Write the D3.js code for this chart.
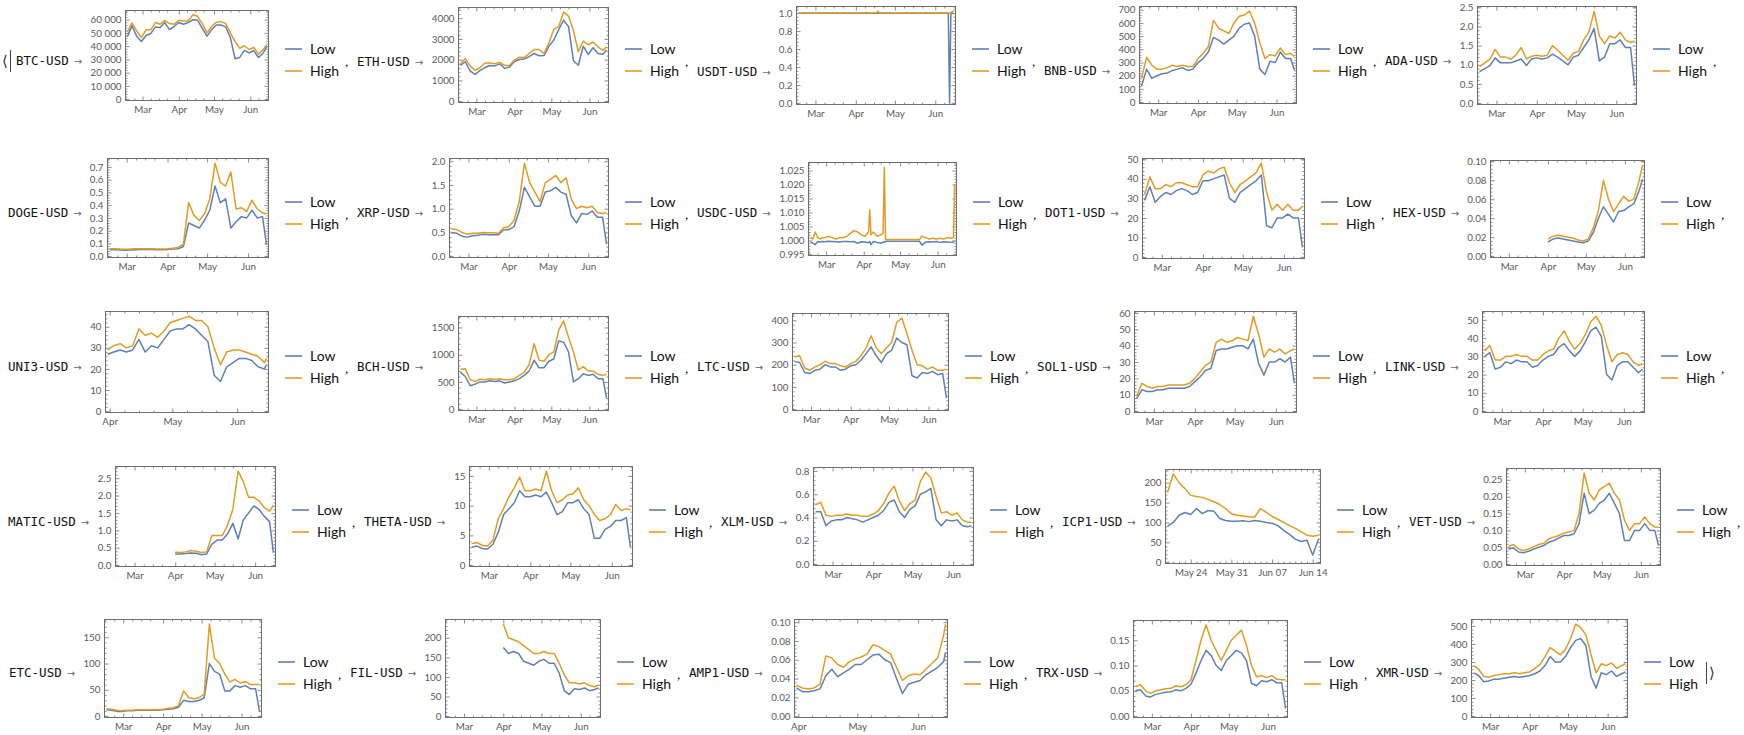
<!DOCTYPE html>
<html><head><meta charset="utf-8">
<script src="https://cdn.jsdelivr.net/npm/d3@7"></script>
<style>body{margin:0;background:#fff;}svg{display:block;}</style>
</head><body>
<svg width="1744" height="735"></svg>
<script>
// ---------- DATA ----------
const dates = ["2021-02-16","2021-02-20","2021-02-24","2021-02-28","2021-03-04","2021-03-08","2021-03-12","2021-03-16","2021-03-20","2021-03-24","2021-03-28","2021-04-01","2021-04-05","2021-04-09","2021-04-13","2021-04-17","2021-04-21","2021-04-25","2021-04-29","2021-05-03","2021-05-07","2021-05-11","2021-05-15","2021-05-19","2021-05-23","2021-05-27","2021-05-31","2021-06-04","2021-06-08","2021-06-12","2021-06-15"];
const datesLate = ["2021-03-31","2021-04-03","2021-04-06","2021-04-09","2021-04-12","2021-04-15","2021-04-18","2021-04-21","2021-04-24","2021-04-27","2021-04-30","2021-05-03","2021-05-06","2021-05-09","2021-05-12","2021-05-15","2021-05-18","2021-05-21","2021-05-24","2021-05-27","2021-05-30","2021-06-02","2021-06-05","2021-06-08","2021-06-11","2021-06-14","2021-06-15"];
const datesICP = ["2021-05-20","2021-05-21","2021-05-22","2021-05-23","2021-05-24","2021-05-25","2021-05-26","2021-05-27","2021-05-28","2021-05-29","2021-05-30","2021-05-31","2021-06-01","2021-06-02","2021-06-03","2021-06-04","2021-06-05","2021-06-06","2021-06-07","2021-06-08","2021-06-09","2021-06-10","2021-06-11","2021-06-12","2021-06-13","2021-06-14","2021-06-15"];
const datesUSDT = ["2021-02-16","2021-03-01","2021-03-15","2021-04-01","2021-04-08","2021-04-09","2021-04-10","2021-04-17","2021-04-18","2021-04-19","2021-05-01","2021-05-15","2021-06-01","2021-06-11","2021-06-12","2021-06-13","2021-06-14","2021-06-15"];
const datesUSDC = ["2021-02-16","2021-02-18","2021-02-20","2021-02-22","2021-02-24","2021-02-26","2021-02-28","2021-03-03","2021-03-06","2021-03-09","2021-03-12","2021-03-15","2021-03-18","2021-03-21","2021-03-24","2021-03-27","2021-03-30","2021-04-02","2021-04-05","2021-04-06","2021-04-07","2021-04-09","2021-04-12","2021-04-15","2021-04-17","2021-04-18","2021-04-19","2021-05-17","2021-05-19","2021-05-22","2021-05-25","2021-05-28","2021-05-31","2021-06-03","2021-06-06","2021-06-09","2021-06-12","2021-06-14","2021-06-15"];

const monthTicks = ["2021-03-01","2021-04-01","2021-05-01","2021-06-01"];
const weekTicks = ["2021-05-24","2021-05-31","2021-06-07","2021-06-14"];

const btcLow  = [47000,55500,47500,43500,48000,49500,54500,54000,57800,52500,55000,57800,56500,57800,60000,59600,53500,47500,52500,56000,56000,54500,46500,30500,31500,36800,35000,36500,31500,34800,39500];
const btcHigh = [50500,57600,51500,46500,52300,52300,57800,56500,59400,57000,56500,59500,59000,59000,63700,62500,57000,50000,55000,58000,58500,57000,50000,43500,38300,40300,37500,39000,34000,37400,41000];
const ethLow  = [1720,1900,1450,1290,1480,1620,1720,1700,1800,1580,1650,1910,2010,2030,2150,2300,2190,2200,2640,2950,3450,3900,3600,1950,1730,2650,2250,2580,2300,2260,2470];
const ethHigh = [1800,2040,1700,1480,1620,1840,1840,1800,1870,1720,1730,1980,2120,2100,2300,2490,2490,2300,2800,3450,3600,4300,4100,3400,2380,2890,2720,2850,2620,2450,2620];
const usdtLow  = [0.999,0.999,0.998,0.999,0.999,0.998,0.999,0.999,0.998,0.999,0.999,0.998,0.999,0.999,0.0,0.999,0.999,0.999];
const usdtHigh = [1.002,1.002,1.002,1.002,1.002,1.006,1.002,1.003,1.022,1.002,1.002,1.002,1.002,1.002,1.002,1.002,1.020,1.012];
const bnbLow  = [120,250,180,200,215,220,240,250,260,240,250,300,330,380,490,470,440,470,500,560,590,600,500,250,210,310,300,380,330,330,240];
const bnbHigh = [180,340,280,250,250,260,280,270,280,270,270,330,370,420,620,560,540,520,600,650,660,690,600,450,330,360,350,410,360,370,345];
const adaLow  = [0.82,0.90,0.98,1.18,1.05,1.05,1.05,1.10,1.15,0.98,1.15,1.18,1.15,1.18,1.28,1.20,1.10,1.00,1.20,1.25,1.45,1.65,1.95,1.10,1.20,1.55,1.55,1.65,1.45,1.45,0.45];
const adaHigh = [0.95,1.05,1.15,1.40,1.20,1.20,1.15,1.25,1.45,1.15,1.22,1.25,1.22,1.25,1.50,1.38,1.25,1.12,1.30,1.35,1.65,1.85,2.40,1.75,1.55,1.75,1.70,1.85,1.65,1.58,1.62];
const dogeLow  = [0.050,0.050,0.048,0.046,0.047,0.050,0.052,0.052,0.051,0.050,0.050,0.052,0.055,0.058,0.075,0.26,0.24,0.22,0.28,0.36,0.55,0.42,0.45,0.22,0.27,0.31,0.30,0.36,0.30,0.31,0.09];
const dogeHigh = [0.058,0.058,0.055,0.053,0.055,0.057,0.058,0.058,0.057,0.056,0.056,0.058,0.062,0.068,0.095,0.42,0.32,0.28,0.33,0.45,0.73,0.58,0.55,0.66,0.37,0.38,0.35,0.44,0.37,0.34,0.33];
const xrpLow  = [0.50,0.48,0.42,0.40,0.43,0.44,0.46,0.45,0.45,0.45,0.55,0.56,0.62,0.95,1.45,1.25,1.05,1.05,1.35,1.38,1.45,1.35,1.30,0.85,0.70,0.90,0.88,0.95,0.82,0.82,0.25];
const xrpHigh = [0.57,0.56,0.50,0.46,0.48,0.48,0.50,0.49,0.49,0.48,0.60,0.62,0.75,1.15,1.96,1.55,1.35,1.15,1.55,1.62,1.70,1.55,1.65,1.20,1.00,1.05,1.02,1.05,0.92,0.90,0.92];
const usdcLow  = [0.9995,0.9990,0.9985,0.9996,0.9994,0.9996,0.9995,0.9997,0.9996,0.9995,0.9994,0.9996,0.9996,0.9995,0.9996,0.9990,0.9995,0.9994,0.9992,0.9996,0.9985,0.9996,0.9993,0.9990,0.9994,0.9993,0.9997,0.9997,0.9983,0.9994,0.9995,0.9994,0.9996,0.9993,0.9995,0.9994,0.9993,0.9995,0.9993];
const usdcHigh = [1.0010,1.0005,1.0030,1.0010,1.0005,1.0010,1.0010,1.0015,1.0010,1.0005,1.0010,1.0010,1.0015,1.0025,1.0035,1.0030,1.0020,1.0015,1.0030,1.0110,1.0020,1.0030,1.0015,1.0020,1.0025,1.0262,1.0003,1.0003,1.0015,1.0010,1.0005,1.0008,1.0005,1.0008,1.0005,1.0010,1.0008,1.0010,1.0202];
const dotLow  = [29,36,28,31,33,32,34,35,34,32,33,39,39,40,41,42,30,28,33,35,37,39,42,16,15,20,20,22,20,20,5];
const dotHigh = [32,41,35,35,37,36,38,38,37,36,36,42,44,43,45,46,38,33,37,39,41,43,48,33,24,27,24,27,24,24,26];
const hexLow  = [null,null,null,null,null,null,null,null,null,null,null,0.015,0.018,0.019,0.018,0.017,0.016,0.015,0.014,0.016,0.025,0.040,0.052,0.044,0.036,0.047,0.048,0.052,0.055,0.068,0.081];
const hexHigh = [null,null,null,null,null,null,null,null,null,null,null,0.018,0.021,0.022,0.021,0.020,0.019,0.017,0.016,0.018,0.030,0.048,0.080,0.060,0.047,0.055,0.063,0.058,0.060,0.078,0.096];
const uniLow  = [27,28,29,28,29,34,28,31,30,34,38,39,39,41,39,36,33,17,14,21,23,25,25,24,21,20,22];
const uniHigh = [29,31,32,30,31,39,36,37,35,38,42,43,44,45,43,43,40,30,22,28,29,29,28,27,26,23,25];
const bchLow  = [680,600,430,460,500,500,520,510,520,480,500,520,560,620,700,900,760,760,880,920,1250,1230,1050,500,560,650,620,640,560,560,200];
const bchHigh = [730,740,540,510,550,540,560,550,560,540,540,560,620,680,820,1200,900,880,1000,1050,1450,1620,1320,1050,720,780,700,700,640,620,640];
const ltcLow  = [215,210,165,160,175,180,200,190,190,175,180,195,200,220,250,280,240,210,250,265,320,300,290,150,140,165,160,170,155,160,50];
const ltcHigh = [235,240,185,175,190,200,215,205,205,195,190,205,215,240,275,330,275,250,275,300,390,410,340,265,200,195,180,190,175,175,180];
const solLow  = [7.5,13,12,12,13,13,14,14,14,14,15,18,21,25,26,37,38,38,39,40,40,38,44,29,22,30,30,32,30,33,17];
const solHigh = [9,17,15,14,15,15,16,16,16,16,17,20,24,28,30,42,44,42,43,45,44,43,58,47,33,38,36,38,35,37,38];
const linkLow  = [30,32,23,24,27,26,28,27,27,24,25,28,30,31,35,37,33,30,33,38,44,46,41,20,17,25,27,27,24,21,23];
const linkHigh = [33,36,28,28,30,30,31,30,30,28,28,31,33,34,40,44,38,34,37,42,49,52,47,36,27,31,32,31,27,25,26];
const maticLow  = [null,null,null,null,null,null,null,null,null,null,null,0.32,0.32,0.33,0.35,0.34,0.30,0.32,0.60,0.72,0.72,0.90,1.20,0.75,1.30,1.50,1.70,1.60,1.40,1.25,0.35];
const maticHigh = [null,null,null,null,null,null,null,null,null,null,null,0.37,0.36,0.38,0.42,0.40,0.36,0.38,0.85,0.85,0.85,1.15,1.60,2.70,2.40,1.95,1.95,1.85,1.65,1.55,1.72];
const thetaLow  = [3.0,3.2,2.8,2.7,3.5,5.5,8.5,9.5,10.5,12.5,11.5,11.5,11.8,11.5,12.3,10.5,8.5,9.0,10.5,10.5,11.0,9.5,8.5,4.5,4.5,6.0,6.5,7.5,7.5,8.0,3.0];
const thetaHigh = [3.6,3.8,3.3,3.2,4.2,7.8,9.5,11.5,13.0,14.8,12.5,12.5,12.8,12.5,15.8,12.5,10.5,11.0,11.8,12.0,13.0,11.0,10.0,8.5,7.5,7.8,8.5,10.2,9.2,9.5,9.3];
const xlmLow  = [0.45,0.45,0.33,0.37,0.38,0.38,0.40,0.39,0.38,0.36,0.38,0.40,0.42,0.46,0.53,0.55,0.45,0.40,0.47,0.50,0.60,0.62,0.65,0.38,0.33,0.38,0.37,0.38,0.33,0.32,0.33];
const xlmHigh = [0.51,0.53,0.42,0.41,0.42,0.42,0.43,0.42,0.42,0.41,0.41,0.43,0.46,0.52,0.61,0.67,0.54,0.46,0.52,0.55,0.71,0.79,0.74,0.58,0.44,0.45,0.42,0.44,0.38,0.36,0.36];
const icpLow  = [90,100,118,125,120,135,122,130,128,110,105,103,103,104,102,105,103,100,98,92,80,70,58,52,55,18,58];
const icpHigh = [175,222,200,185,168,165,163,158,152,145,135,122,118,116,114,113,135,125,115,108,100,92,85,77,68,65,68];
const vetLow  = [0.045,0.048,0.036,0.034,0.038,0.045,0.050,0.055,0.065,0.070,0.078,0.085,0.085,0.090,0.12,0.21,0.15,0.16,0.18,0.19,0.21,0.18,0.15,0.07,0.07,0.10,0.10,0.12,0.10,0.10,0.055];
const vetHigh = [0.052,0.058,0.045,0.040,0.045,0.052,0.058,0.062,0.075,0.080,0.085,0.092,0.095,0.10,0.15,0.27,0.21,0.19,0.22,0.23,0.24,0.21,0.19,0.13,0.10,0.12,0.12,0.14,0.12,0.11,0.11];
const etcLow  = [12,11,9,9,10,10,11,11,11,11,11,12,13,14,17,30,28,28,30,35,100,85,80,48,48,58,55,58,52,52,8];
const etcHigh = [14,13,11,10,11,11,12,12,12,12,12,13,15,16,20,48,35,33,35,42,175,110,100,80,65,70,63,66,60,60,60];
const filLow  = [null,null,null,null,null,null,null,null,null,null,null,175,160,165,160,140,135,130,140,145,135,135,110,65,55,70,68,72,65,68,72];
const filHigh = [null,null,null,null,null,null,null,null,null,null,null,235,200,195,190,180,170,160,160,165,160,160,135,105,85,85,82,85,78,75,80];
const ampLow  = [0.030,0.026,0.026,0.027,0.029,0.043,0.050,0.042,0.046,0.050,0.055,0.055,0.060,0.065,0.066,0.060,0.057,0.040,0.024,0.034,0.036,0.038,0.044,0.048,0.052,0.058,0.068];
const ampHigh = [0.033,0.030,0.029,0.030,0.034,0.064,0.062,0.055,0.052,0.058,0.061,0.063,0.066,0.076,0.074,0.070,0.066,0.052,0.038,0.043,0.045,0.044,0.050,0.056,0.062,0.086,0.098];
const trxLow  = [0.050,0.052,0.040,0.038,0.043,0.045,0.047,0.048,0.052,0.050,0.055,0.063,0.085,0.110,0.130,0.120,0.100,0.090,0.110,0.120,0.130,0.125,0.110,0.065,0.060,0.070,0.068,0.072,0.066,0.066,0.015];
const trxHigh = [0.058,0.062,0.050,0.045,0.050,0.052,0.054,0.055,0.060,0.058,0.062,0.072,0.110,0.150,0.180,0.150,0.130,0.110,0.130,0.150,0.160,0.170,0.140,0.100,0.078,0.080,0.076,0.080,0.073,0.072,0.072];
const xmrLow  = [240,225,190,195,205,205,210,215,220,215,220,225,235,250,280,330,300,300,330,380,420,430,390,220,155,240,230,250,220,235,245];
const xmrHigh = [280,260,220,215,225,230,235,235,240,235,240,245,265,285,330,380,360,340,370,430,510,490,450,340,240,290,280,295,265,280,290];

// y tick values
const btcTicks=[0,10000,20000,30000,40000,50000,60000];
const ethTicks=[0,1000,2000,3000,4000];
const usdtTicks=[0,0.2,0.4,0.6,0.8,1.0];
const bnbTicks=[0,100,200,300,400,500,600,700];
const adaTicks=[0,0.5,1.0,1.5,2.0,2.5];
const dogeTicks=[0,0.1,0.2,0.3,0.4,0.5,0.6,0.7];
const xrpTicks=[0,0.5,1.0,1.5,2.0];
const usdcTicks=[0.995,1.000,1.005,1.010,1.015,1.020,1.025];
const dotTicks=[0,10,20,30,40,50];
const hexTicks=[0,0.02,0.04,0.06,0.08,0.10];
const uniTicks=[0,10,20,30,40];
const bchTicks=[0,500,1000,1500];
const ltcTicks=[0,100,200,300,400];
const solTicks=[0,10,20,30,40,50,60];
const linkTicks=[0,10,20,30,40,50];
const maticTicks=[0,0.5,1.0,1.5,2.0,2.5];
const thetaTicks=[0,5,10,15];
const xlmTicks=[0,0.2,0.4,0.6,0.8];
const icpTicks=[0,50,100,150,200];
const vetTicks=[0,0.05,0.10,0.15,0.20,0.25];
const etcTicks=[0,50,100,150];
const filTicks=[0,50,100,150,200];
const ampTicks=[0,0.02,0.04,0.06,0.08,0.10];
const trxTicks=[0,0.05,0.10,0.15];
const xmrTicks=[0,100,200,300,400,500];

const panels = [
 {name:"BTC-USD", d:dates, lo:btcLow, hi:btcHigh, yt:btcTicks, dec:0, xt:monthTicks, xf:"%b"},
 {name:"ETH-USD", d:dates, lo:ethLow, hi:ethHigh, yt:ethTicks, dec:0, xt:monthTicks, xf:"%b"},
 {name:"USDT-USD", d:datesUSDT, lo:usdtLow, hi:usdtHigh, yt:usdtTicks, dec:1, xt:monthTicks, xf:"%b"},
 {name:"BNB-USD", d:dates, lo:bnbLow, hi:bnbHigh, yt:bnbTicks, dec:0, xt:monthTicks, xf:"%b"},
 {name:"ADA-USD", d:dates, lo:adaLow, hi:adaHigh, yt:adaTicks, dec:1, xt:monthTicks, xf:"%b"},
 {name:"DOGE-USD", d:dates, lo:dogeLow, hi:dogeHigh, yt:dogeTicks, dec:1, xt:monthTicks, xf:"%b"},
 {name:"XRP-USD", d:dates, lo:xrpLow, hi:xrpHigh, yt:xrpTicks, dec:1, xt:monthTicks, xf:"%b"},
 {name:"USDC-USD", d:datesUSDC, lo:usdcLow, hi:usdcHigh, yt:usdcTicks, dec:3, xt:monthTicks, xf:"%b", yDom:[0.9946,1.0279]},
 {name:"DOT1-USD", d:dates, lo:dotLow, hi:dotHigh, yt:dotTicks, dec:0, xt:monthTicks, xf:"%b"},
 {name:"HEX-USD", d:dates, lo:hexLow, hi:hexHigh, yt:hexTicks, dec:2, xt:monthTicks, xf:"%b"},
 {name:"UNI3-USD", d:datesLate, lo:uniLow, hi:uniHigh, yt:uniTicks, dec:0, xt:monthTicks, xf:"%b"},
 {name:"BCH-USD", d:dates, lo:bchLow, hi:bchHigh, yt:bchTicks, dec:0, xt:monthTicks, xf:"%b"},
 {name:"LTC-USD", d:dates, lo:ltcLow, hi:ltcHigh, yt:ltcTicks, dec:0, xt:monthTicks, xf:"%b"},
 {name:"SOL1-USD", d:dates, lo:solLow, hi:solHigh, yt:solTicks, dec:0, xt:monthTicks, xf:"%b"},
 {name:"LINK-USD", d:dates, lo:linkLow, hi:linkHigh, yt:linkTicks, dec:0, xt:monthTicks, xf:"%b"},
 {name:"MATIC-USD", d:dates, lo:maticLow, hi:maticHigh, yt:maticTicks, dec:1, xt:monthTicks, xf:"%b"},
 {name:"THETA-USD", d:dates, lo:thetaLow, hi:thetaHigh, yt:thetaTicks, dec:0, xt:monthTicks, xf:"%b"},
 {name:"XLM-USD", d:dates, lo:xlmLow, hi:xlmHigh, yt:xlmTicks, dec:1, xt:monthTicks, xf:"%b"},
 {name:"ICP1-USD", d:datesICP, lo:icpLow, hi:icpHigh, yt:icpTicks, dec:0, xt:weekTicks, xf:"%b %d"},
 {name:"VET-USD", d:dates, lo:vetLow, hi:vetHigh, yt:vetTicks, dec:2, xt:monthTicks, xf:"%b"},
 {name:"ETC-USD", d:dates, lo:etcLow, hi:etcHigh, yt:etcTicks, dec:0, xt:monthTicks, xf:"%b"},
 {name:"FIL-USD", d:dates, lo:filLow, hi:filHigh, yt:filTicks, dec:0, xt:monthTicks, xf:"%b"},
 {name:"AMP1-USD", d:datesLate, lo:ampLow, hi:ampHigh, yt:ampTicks, dec:2, xt:monthTicks, xf:"%b"},
 {name:"TRX-USD", d:dates, lo:trxLow, hi:trxHigh, yt:trxTicks, dec:2, xt:monthTicks, xf:"%b"},
 {name:"XMR-USD", d:dates, lo:xmrLow, hi:xmrHigh, yt:xmrTicks, dec:0, xt:monthTicks, xf:"%b"}
];

// ---------- LAYOUT ----------
const rows = [
 {startX:16, cy:60,  legendX:[285,625,972,1313,1653], frameY:[[10,100],[7,102],[6,104],[6,103],[6,104]], labelY:[61,62,72,71,61]},
 {startX:8,  cy:213, legendX:[285,625,973,1321,1661], frameY:[[158,257],[158,257],[162,255],[158,258],[160,257]], labelY:[213,213,213,213,213]},
 {startX:8,  cy:367, legendX:[285,625,965,1313,1661], frameY:[[311,412],[316,410],[313,410],[311,412],[311,412]], labelY:[367,367,367,367,367]},
 {startX:8,  cy:521, legendX:[292,649,990,1337,1677], frameY:[[466,566],[466,566],[467,565],[469,563],[468,565]], labelY:[522,522,522,522,522]},
 {startX:9,  cy:673, legendX:[278,617,964,1304,1644], frameY:[[619,717],[619,717],[619,717],[620,717],[619,717]], labelY:[673,673,673,673,673]}
];

const LOWC = "#5E81B5", HIGHC = "#E19C24", FRAMEC = "#6e6e6e", TICKTXT = "#5a5a5a";
const svg = d3.select("svg");
const P = d3.utcParse("%Y-%m-%d");

function thousands(v){ return v >= 10000 ? d3.format(",")(v).replace(/,/g, " ") : String(v); }

function drawPanel(p, idx, row, i) {
  const g = svg.append("g");
  const lx = i === 0 ? row.startX : row.legendX[i-1] + 72;
  const ly = row.labelY[i];
  const lab = g.append("text").attr("x", lx).attr("y", ly).attr("dy", "0.35em")
    .attr("font-family", "'DejaVu Sans Mono', monospace").attr("font-size", 12.5).attr("fill", "#111");
  lab.append("tspan").text(p.name);
  lab.append("tspan").attr("dx", 5).attr("font-family", "'DejaVu Sans', sans-serif").attr("font-size", 10).attr("fill", "#666").text("\u2192");
  const bb = lab.node().getBBox();
  const labelEnd = bb.x + bb.width;

  const fmt = p.dec > 0 ? d3.format("." + p.dec + "f") : thousands;

  let yd;
  if (p.yDom) yd = p.yDom;
  else {
    const mx = d3.max(p.hi.concat(p.lo).filter(v => v != null));
    yd = [-0.015*mx, mx*1.05];
  }
  const eps = 1e-9;
  const majors = p.yt.filter(v => v >= yd[0] - eps && v <= yd[1] + eps);

  const tmp = g.append("g").attr("font-family", "Lato, sans-serif").attr("font-size", 9.8);
  let tw = 0;
  majors.forEach(v => { const n = tmp.append("text").text(fmt(v)).node(); tw = Math.max(tw, n.getComputedTextLength()); });
  tmp.remove();

  const x0 = Math.round(labelEnd + 7 + tw + 5) + 0.5;
  const x1 = row.legendX[i] - 17 + 0.5;
  const y0 = row.frameY[i][0] + 0.5, y1 = row.frameY[i][1] + 0.5;

  const ds = p.d.map(P);
  const ext = d3.extent(ds);
  const span = ext[1] - ext[0];
  const x = d3.scaleUtc().domain([new Date(+ext[0] - 0.013*span), new Date(+ext[1] + 0.013*span)]).range([x0, x1]);
  const y = d3.scaleLinear().domain(yd).range([y1, y0]);

  const step = p.yt[1] - p.yt[0];
  const ms = step / 5;
  const minors = [];
  for (let k = Math.ceil(yd[0]/ms - eps); k <= Math.floor(yd[1]/ms + eps); k++) {
    if (((k % 5) + 5) % 5 !== 0) minors.push(k*ms);
  }
  const xd = x.domain();
  const xMaj = p.xt.map(P).filter(d => d >= xd[0] && d <= xd[1]);
  const xMin = [];
  if (p.xf === "%b") {
    ["02","03","04","05","06"].forEach(m => ["08","15","22"].forEach(dd => {
      const t = P("2021-" + m + "-" + dd); if (t >= xd[0] && t <= xd[1]) xMin.push(t);
    }));
  } else {
    d3.utcDay.range(xd[0], xd[1]).forEach(t => { if (!xMaj.some(m => +m === +t)) xMin.push(t); });
  }

  const axG = g.append("g");
  axG.append("g").attr("transform", `translate(${x0},0)`).call(d3.axisLeft(y).tickValues(majors).tickFormat(fmt).tickSize(-4).tickPadding(4));
  axG.append("g").attr("transform", `translate(${x0},0)`).call(d3.axisLeft(y).tickValues(minors).tickFormat("").tickSize(-2));
  axG.append("g").attr("transform", `translate(${x1},0)`).call(d3.axisRight(y).tickValues(majors).tickFormat("").tickSize(-4));
  axG.append("g").attr("transform", `translate(${x1},0)`).call(d3.axisRight(y).tickValues(minors).tickFormat("").tickSize(-2));
  axG.append("g").attr("transform", `translate(0,${y1})`).call(d3.axisBottom(x).tickValues(xMaj).tickFormat(d3.utcFormat(p.xf)).tickSize(-4).tickPadding(6));
  axG.append("g").attr("transform", `translate(0,${y1})`).call(d3.axisBottom(x).tickValues(xMin).tickFormat("").tickSize(-2));
  axG.append("g").attr("transform", `translate(0,${y0})`).call(d3.axisTop(x).tickValues(xMaj).tickFormat("").tickSize(-4));
  axG.append("g").attr("transform", `translate(0,${y0})`).call(d3.axisTop(x).tickValues(xMin).tickFormat("").tickSize(-2));
  axG.selectAll(".domain").remove();
  axG.selectAll("g").attr("font-family", "Lato, sans-serif").attr("font-size", 9.8);
  axG.selectAll(".tick line").attr("stroke", FRAMEC).attr("stroke-width", 0.8);
  axG.selectAll(".tick text").attr("fill", TICKTXT);

  const cid = "clip" + idx;
  svg.append("clipPath").attr("id", cid).append("rect").attr("x", x0).attr("y", y0).attr("width", x1 - x0).attr("height", y1 - y0);

  const line = d3.line().defined(d => d.v != null).x(d => x(d.t)).y(d => y(d.v));
  const lowPts = ds.map((t, k) => ({t, v: p.lo[k]}));
  const highPts = ds.map((t, k) => ({t, v: p.hi[k]}));
  const lg = g.append("g").attr("clip-path", `url(#${cid})`);
  lg.append("path").attr("d", line(lowPts)).attr("fill", "none").attr("stroke", LOWC).attr("stroke-width", 1.5).attr("stroke-linejoin", "round");
  lg.append("path").attr("d", line(highPts)).attr("fill", "none").attr("stroke", HIGHC).attr("stroke-width", 1.5).attr("stroke-linejoin", "round");

  g.append("rect").attr("x", x0).attr("y", y0).attr("width", x1 - x0).attr("height", y1 - y0)
    .attr("fill", "none").attr("stroke", FRAMEC).attr("stroke-width", 1);

  const lgx = row.legendX[i];
  [["Low", LOWC, row.cy - 11], ["High", HIGHC, row.cy + 11]].forEach(([txt, c, yy]) => {
    g.append("line").attr("x1", lgx).attr("x2", lgx + 17).attr("y1", yy).attr("y2", yy).attr("stroke", c).attr("stroke-width", 1.6);
    g.append("text").attr("x", lgx + 25).attr("y", yy).attr("dy", "0.35em").attr("font-family", "Lato, sans-serif").attr("font-size", 14).attr("fill", "#111").text(txt);
  });
  if (idx !== panels.length - 1) {
    g.append("text").attr("x", lgx + 60).attr("y", row.cy + 6).attr("font-family", "Lato, sans-serif").attr("font-size", 14).attr("fill", "#111").text(",");
  }
}

panels.forEach((p, idx) => {
  const r = Math.floor(idx / 5), i = idx % 5;
  drawPanel(p, idx, rows[r], i);
});

svg.append("text").attr("x", 2).attr("y", 61).attr("dy", "0.35em").attr("font-family", "'DejaVu Sans', sans-serif").attr("font-size", 15).attr("fill", "#333").text("\u27E8");
svg.append("line").attr("x1", 10.5).attr("x2", 10.5).attr("y1", 50).attr("y2", 72).attr("stroke", "#444").attr("stroke-width", 1);
const endX = rows[4].legendX[4] + 62;
svg.append("line").attr("x1", endX + 0.5).attr("x2", endX + 0.5).attr("y1", 662).attr("y2", 684).attr("stroke", "#444").attr("stroke-width", 1);
svg.append("text").attr("x", endX + 3).attr("y", 673).attr("dy", "0.35em").attr("font-family", "'DejaVu Sans', sans-serif").attr("font-size", 15).attr("fill", "#333").text("\u27E9");
</script>
</body></html>
